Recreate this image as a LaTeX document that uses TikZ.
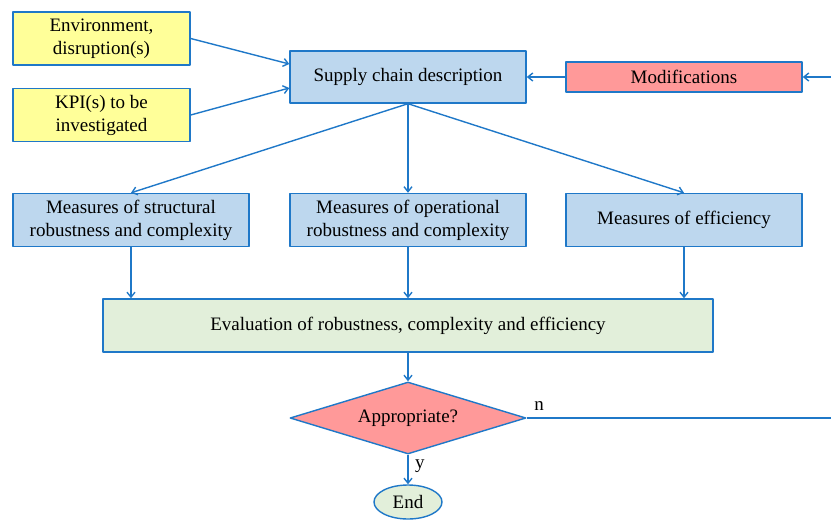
\documentclass[tikz,border=0pt]{standalone}
\usepackage{fontspec}
\setmainfont{Liberation Serif}
\usepackage{tikz}
\usetikzlibrary{arrows.meta,shapes.geometric}
\definecolor{edge}{HTML}{1F78C8}
\definecolor{boxblue}{HTML}{BDD7EE}
\definecolor{boxyel}{HTML}{FFFF99}
\definecolor{boxred}{HTML}{FF9999}
\definecolor{boxgrn}{HTML}{E2EFDA}
\tikzset{fig/.style={x=1pt,y=-1pt,line join=round,>={Straight Barb[length=5pt,width=8pt]},
    font=\fontsize{19}{23}\selectfont},
  blk/.style={draw=edge,line width=1.4pt,align=center,inner sep=1pt,minimum width=236pt,minimum height=53pt},
  conn/.style={draw=edge,line width=1.4pt}}
\begin{document}
\begin{tikzpicture}[fig]
  \useasboundingbox (0,0) rectangle (831,520);
  \node[blk,fill=boxyel,minimum width=177pt](env)at(101.5,38.5){Environment,\\disruption(s)};
  \node[blk,fill=boxyel,minimum width=177pt](kpi)at(101.5,115){KPI(s) to be\\investigated};
  \node[blk,fill=boxblue,minimum height=52pt](supply)at(408,77){Supply chain description};
  \node[blk,fill=boxred,minimum height=30pt](mods)at(684,77){Modifications};
  % measures
  \node[blk,fill=boxblue](mstruct)at(131,220){Measures of structural\\robustness and complexity};
  \node[blk,fill=boxblue](moper)at(408,220){Measures of operational\\robustness and complexity};
  \node[blk,fill=boxblue](meff)at(684,220){Measures of efficiency};
  \node[blk,fill=boxgrn,minimum width=610pt](eval)at(408,325.5){Evaluation of robustness, complexity and efficiency};
  \node[blk,fill=boxred,shape=diamond,aspect=3.3,minimum width=236pt,minimum height=72pt](appr)at(408,418){Appropriate?};
  \node[blk,fill=boxgrn,shape=ellipse,minimum width=68pt,minimum height=34pt](fin)at(408,502){End};
  \coordinate(fbr)at(836,418);\coordinate(fbt)at(836,77);
  % connectors
  \draw[conn,->](env.east)--([yshift=13pt]supply.west);\draw[conn,->](kpi.east)--([yshift=-11pt]supply.west);
  \draw[conn,->](mods)--(supply);
  \draw[conn,->](supply.south)--(mstruct.north);\draw[conn,->](supply.south)--(moper.north);\draw[conn,->](supply.south)--(meff.north);
  \foreach \m in {mstruct,moper,meff}{\draw[conn,->](\m.south)--(\m.south|-eval.north);}
  \draw[conn,->](eval)--(appr);
  \draw[conn,->](appr)--node[right,pos=0.4,xshift=3pt]{y}(fin);
  \draw[conn,->](appr.east)--node[above,pos=0.04,yshift=3pt]{n}(fbr)--(fbt)--(mods.east);
\end{tikzpicture}
\end{document}
